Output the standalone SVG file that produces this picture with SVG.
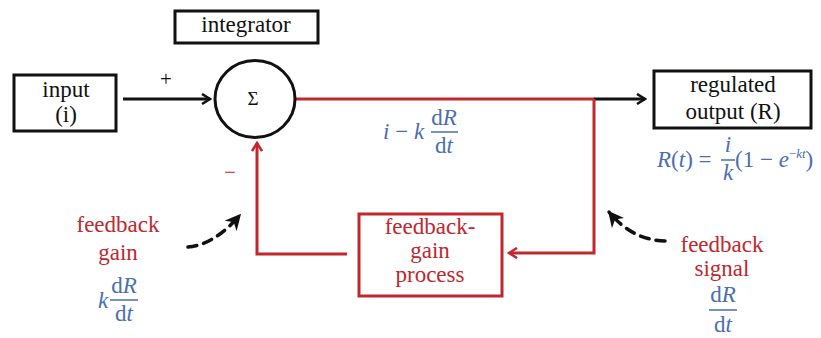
<svg xmlns="http://www.w3.org/2000/svg" width="821" height="338" viewBox="0 0 821 338">
<style>
.blk{fill:#111}
.red{fill:#c1272d}
.blue{fill:#4a6fae}
.it{font-style:italic}
.box{fill:#fff;stroke:#111;stroke-width:3}
.rbox{fill:#fff;stroke:#c1272d;stroke-width:3}
.bl{stroke:#111;stroke-width:3;fill:none}
.rl{stroke:#c1272d;stroke-width:3;fill:none}
.dash{stroke:#111;stroke-width:3.5;fill:none;stroke-dasharray:9 7;stroke-linecap:round}
.bar{stroke:#4a6fae;stroke-width:1.5}
</style>
<defs>
<marker id="ob" viewBox="0 0 12 12" refX="10" refY="6" markerWidth="12" markerHeight="12" markerUnits="userSpaceOnUse" orient="auto"><path d="M2,1 L10,6 L2,11" fill="none" stroke="#111" stroke-width="2.5"/></marker>
<marker id="or" viewBox="0 0 12 12" refX="10" refY="6" markerWidth="12" markerHeight="12" markerUnits="userSpaceOnUse" orient="auto"><path d="M2,1 L10,6 L2,11" fill="none" stroke="#c1272d" stroke-width="2.5"/></marker>
<marker id="fb" viewBox="0 0 10 10" refX="9" refY="5" markerWidth="16" markerHeight="16" markerUnits="userSpaceOnUse" orient="auto"><path d="M0,0 L10,5 L0,10 L3,5 Z" fill="#111"/></marker>
</defs>
<g id="connectors">
<line class="bl" x1="123" y1="99" x2="210" y2="99" marker-end="url(#ob)"/>
<line class="rl" x1="296" y1="99" x2="594" y2="99"/>
<line class="bl" x1="594" y1="99" x2="645" y2="99" marker-end="url(#ob)"/>
<polyline class="rl" points="594,99 594,253 509,253" marker-end="url(#or)"/>
<polyline class="rl" points="347,254 257,254 257,143" marker-end="url(#or)"/>
<path class="dash" d="M188,247 Q214,245 240,215" marker-end="url(#fb)"/>
<path class="dash" d="M665,241 Q632,240 609,212" marker-end="url(#fb)"/>
</g>
<g id="integrator">
<rect class="box" x="175" y="11" width="143" height="32"/>
<text class="blk" x="246" y="32" font-family="Liberation Serif" font-size="23" text-anchor="middle">integrator</text>
</g>
<g id="input">
<rect class="box" x="14" y="75" width="102" height="56"/>
<text class="blk" x="66" y="97" font-family="Liberation Serif" font-size="23" text-anchor="middle">input</text>
<text class="blk" x="66" y="122" font-family="Liberation Serif" font-size="23" text-anchor="middle">(i)</text>
</g>
<g id="sum">
<ellipse cx="255" cy="99" rx="40" ry="38.5" fill="#fff" stroke="#111" stroke-width="3"/>
<text class="blk" x="253" y="105" font-family="Liberation Serif" font-size="19" text-anchor="middle">Σ</text>
</g>
<g id="signs">
<text class="blk" x="166" y="86" font-family="Liberation Serif" font-size="21" text-anchor="middle">+</text>
<text class="red" x="230" y="179" font-family="Liberation Serif" font-size="21" text-anchor="middle">−</text>
</g>
<g id="output">
<rect class="box" x="654" y="71" width="157" height="57"/>
<text class="blk" x="733" y="92" font-family="Liberation Serif" font-size="23" text-anchor="middle">regulated</text>
<text class="blk" x="733" y="119" font-family="Liberation Serif" font-size="23" text-anchor="middle">output (R)</text>
</g>
<g id="output-formula">
<text class="blue" x="657" y="167" font-family="Liberation Serif" font-size="23"><tspan class="it">R</tspan>(<tspan class="it">t</tspan>) =</text>
<text class="blue it" x="728" y="152" font-family="Liberation Serif" font-size="23" text-anchor="middle">i</text>
<line class="bar" x1="721" y1="160" x2="735" y2="160"/>
<text class="blue it" x="728" y="180" font-family="Liberation Serif" font-size="23" text-anchor="middle">k</text>
<text class="blue" x="735" y="167" font-family="Liberation Serif" font-size="23">(1 − <tspan class="it">e</tspan><tspan dy="-9" font-size="13">−<tspan class="it">kt</tspan></tspan><tspan dy="9">)</tspan></text>
</g>
<g id="error-formula">
<text class="blue" x="383" y="139" font-family="Liberation Serif" font-size="23"><tspan class="it">i</tspan> − <tspan class="it">k</tspan></text>
<text class="blue" x="444" y="125" font-family="Liberation Serif" font-size="23" text-anchor="middle">d<tspan class="it">R</tspan></text>
<line class="bar" x1="431" y1="132" x2="458" y2="132"/>
<text class="blue" x="444" y="153" font-family="Liberation Serif" font-size="23" text-anchor="middle">d<tspan class="it">t</tspan></text>
</g>
<g id="feedback-gain-process">
<rect class="rbox" x="359" y="214" width="143" height="82"/>
<text class="red" x="430" y="234" font-family="Liberation Serif" font-size="23" text-anchor="middle">feedback-</text>
<text class="red" x="430" y="258" font-family="Liberation Serif" font-size="23" text-anchor="middle">gain</text>
<text class="red" x="430" y="282" font-family="Liberation Serif" font-size="23" text-anchor="middle">process</text>
</g>
<g id="feedback-gain-label">
<text class="red" x="118" y="232" font-family="Liberation Serif" font-size="23" text-anchor="middle">feedback</text>
<text class="red" x="118" y="260" font-family="Liberation Serif" font-size="23" text-anchor="middle">gain</text>
<text class="blue it" x="103" y="308" font-family="Liberation Serif" font-size="23" text-anchor="middle">k</text>
<text class="blue" x="124" y="293" font-family="Liberation Serif" font-size="23" text-anchor="middle">d<tspan class="it">R</tspan></text>
<line class="bar" x1="110" y1="300" x2="138" y2="300"/>
<text class="blue" x="124" y="321" font-family="Liberation Serif" font-size="23" text-anchor="middle">d<tspan class="it">t</tspan></text>
</g>
<g id="feedback-signal-label">
<text class="red" x="722" y="252" font-family="Liberation Serif" font-size="23" text-anchor="middle">feedback</text>
<text class="red" x="722" y="276" font-family="Liberation Serif" font-size="23" text-anchor="middle">signal</text>
<text class="blue" x="723" y="302" font-family="Liberation Serif" font-size="23" text-anchor="middle">d<tspan class="it">R</tspan></text>
<line class="bar" x1="709" y1="310" x2="737" y2="310"/>
<text class="blue" x="723" y="332" font-family="Liberation Serif" font-size="23" text-anchor="middle">d<tspan class="it">t</tspan></text>
</g>
</svg>
